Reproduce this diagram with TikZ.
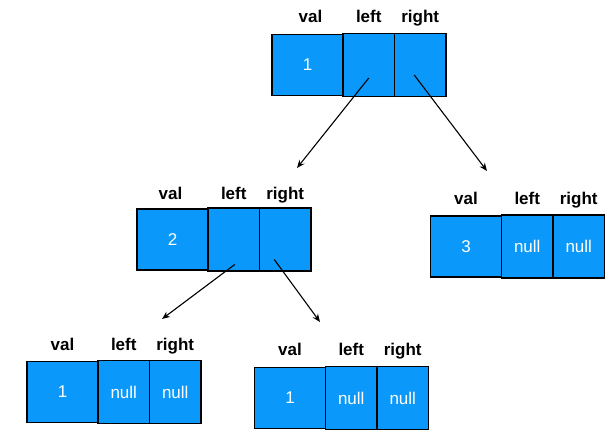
\documentclass[tikz,border=0pt]{standalone}
\usepackage{fontspec}
\setmainfont{Liberation Sans}
\usetikzlibrary{positioning,arrows.meta}

\definecolor{nodeblue}{RGB}{10,152,250}

\tikzset{
    valbox/.style={draw, line width=1.5pt, fill=nodeblue, text=white,
        minimum width=71pt, minimum height=61pt, inner sep=0pt, outer sep=0pt,
        font=\fontsize{17}{19}\selectfont},
    ptrbox/.style={valbox, minimum width=51.5pt, minimum height=63pt},
    field/.style={font=\fontsize{17}{19}\selectfont\bfseries,
        text height=12.5pt, text depth=3.5pt, inner sep=0pt},
    ptr/.style={line width=1.1pt, -{Stealth[length=8pt,width=6.5pt]}}
}

\begin{document}
\begin{tikzpicture}[x=1pt, y=-1pt]
    \useasboundingbox (0,0) rectangle (616,429);

    % Root node
    \node[valbox] (v1) at (307.5,65) {1};
    \node[ptrbox, right=0pt of v1] (l1) {};
    \node[ptrbox, right=0pt of l1] (r1) {};
    \node[field, above=8pt of v1, xshift=3pt] (fv1) {val};
    \node[field, above=7pt of l1] (fl1) {left};
    \node[field, above=7pt of r1] (fr1) {right};

    % Left child
    \node[valbox] (v2) at (172.5,239.5) {2};
    \node[ptrbox, right=0pt of v2] (l2) {};
    \node[ptrbox, right=0pt of l2] (r2) {};
    \node[field, above=6pt of v2, xshift=-2pt] (fv2) {val};
    \node[field, above=5pt of l2] (fl2) {left};
    \node[field, above=5pt of r2] (fr2) {right};

    % Right child
    \node[valbox] (v3) at (466,246.5) {3};
    \node[ptrbox, right=0pt of v3] (l3) {null};
    \node[ptrbox, right=0pt of l3] (r3) {null};
    \node[field, above=8pt of v3] (fv3) {val};
    \node[field, above=7pt of l3] (fl3) {left};
    \node[field, above=7pt of r3] (fr3) {right};

    % Children of node 2
    \node[valbox] (v4) at (62.5,392) {1};
    \node[ptrbox, right=0pt of v4] (l4) {null};
    \node[ptrbox, right=0pt of l4] (r4) {null};
    \node[field, above=7pt of v4] (fv4) {val};
    \node[field, above=6pt of l4] (fl4) {left};
    \node[field, above=6pt of r4] (fr4) {right};

    \node[valbox] (v5) at (290,398) {1};
    \node[ptrbox, right=0pt of v5] (l5) {null};
    \node[ptrbox, right=0pt of l5] (r5) {null};
    \node[field, above=8pt of v5] (fv5) {val};
    \node[field, above=7pt of l5] (fl5) {left};
    \node[field, above=7pt of r5] (fr5) {right};

    % Pointers
    \coordinate (t2) at (297,168);
    \coordinate (t3) at (487,171);
    \coordinate (t4) at (162,319);
    \coordinate (t5) at (320,322);
    \draw[ptr] ([yshift=-13pt]l1.center) -- (t2);
    \draw[ptr] ([xshift=-6pt,yshift=-10pt]r1.center) -- (t3);
    \draw[ptr] ([xshift=1pt,yshift=-25pt]l2.center) -- (t4);
    \draw[ptr] ([xshift=-11pt,yshift=-20pt]r2.center) -- (t5);
\end{tikzpicture}
\end{document}
